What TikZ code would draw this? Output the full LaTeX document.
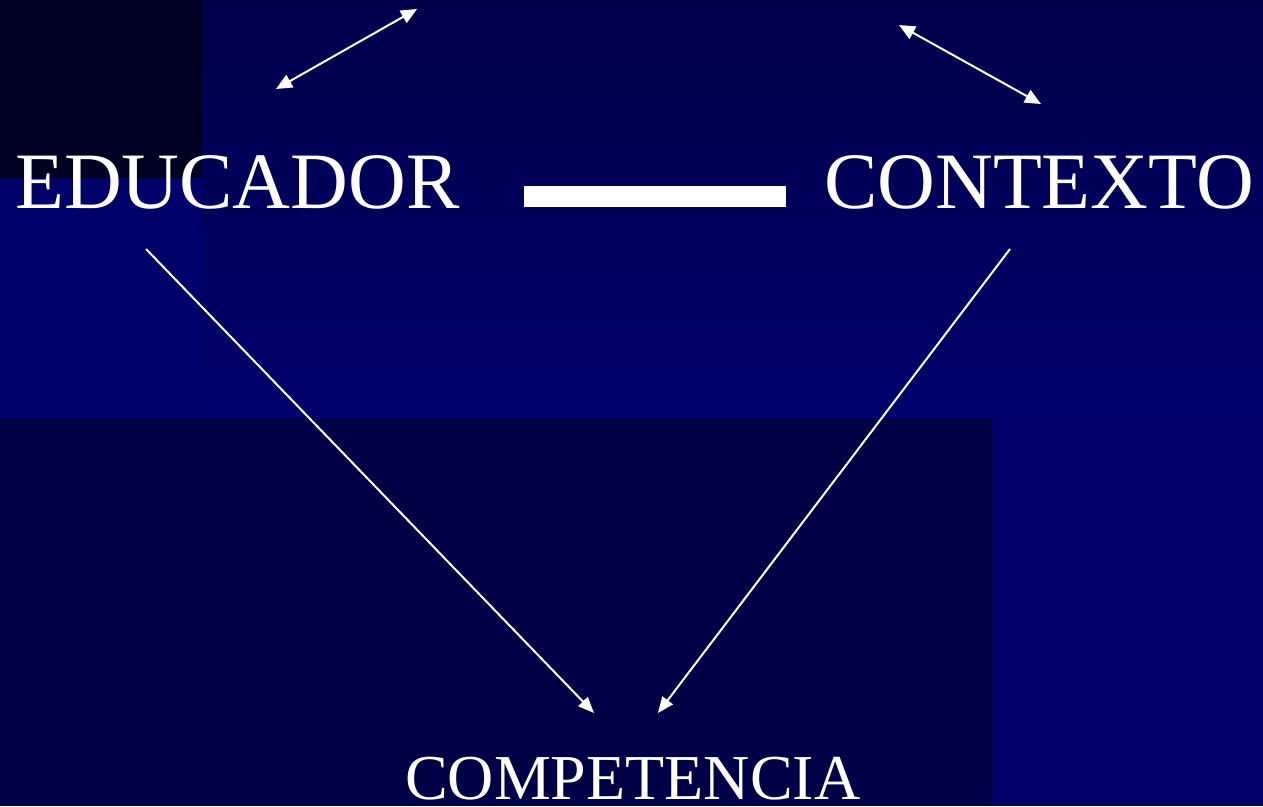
\documentclass[tikz,border=0pt]{standalone}
\usepackage{fontspec}
\setmainfont{Liberation Serif}
\usetikzlibrary{arrows.meta}
\definecolor{bgtop}{HTML}{00004A}
\definecolor{bgmid}{HTML}{00006C}
\definecolor{bglow}{HTML}{000068}
\definecolor{darkcorner}{HTML}{000022}
\definecolor{leftstrip}{HTML}{00006A}
\definecolor{bottombox}{HTML}{000046}
\tikzset{
  lbl/.style={text=white, inner sep=0pt, anchor=base west},
  tiphead/.style={Triangle[length=16pt,width=14pt]},
  conn/.style={draw=white, line width=2pt, -{Triangle[length=16pt,width=13pt]}},
  dconn/.style={draw=white, line width=2pt, {Triangle[length=16pt,width=14pt]}-{Triangle[length=16pt,width=14pt]}}
}
\begin{document}
\begin{tikzpicture}[x=1pt,y=-1pt]
\useasboundingbox (0,0) rectangle (1263,806);
% background
\shade[top color=bgtop, bottom color=bgmid] (0,0) rectangle (1263,418);
\fill[bglow] (0,418) rectangle (1263,806);
\fill[darkcorner] (0,0) rectangle (202,178);
\fill[leftstrip] (0,178) rectangle (202,418);
\fill[bottombox] (0,418) rectangle (992,806);
% labels
\node[lbl, font=\fontsize{80}{96}\selectfont] (edu) at (15,208) {EDUCADOR};
\node[lbl, font=\fontsize{80}{96}\selectfont] (ctx) at (824,208) {CONTEXTO};
\node[lbl, font=\fontsize{64}{76}\selectfont] (comp) at (405,799) {COMPETENCIA};
% bar between
\node[fill=white, minimum width=262pt, minimum height=21pt, inner sep=0pt, anchor=north west] (bar) at (524,186) {};
% coordinates
\coordinate (a1s) at (276,89);
\coordinate (a1e) at (417,9);
\coordinate (a2s) at (899,25);
\coordinate (a2e) at (1041,104);
\coordinate (eduout) at (146,249);
\coordinate (ctxout) at (1010,249);
\coordinate (compinL) at (594,713);
\coordinate (compinR) at (658,713);
% connectors
\draw[dconn] (a1s) -- (a1e);
\draw[dconn] (a2s) -- (a2e);
\draw[conn] (eduout) -- (compinL);
\draw[conn] (ctxout) -- (compinR);
\end{tikzpicture}
\end{document}
